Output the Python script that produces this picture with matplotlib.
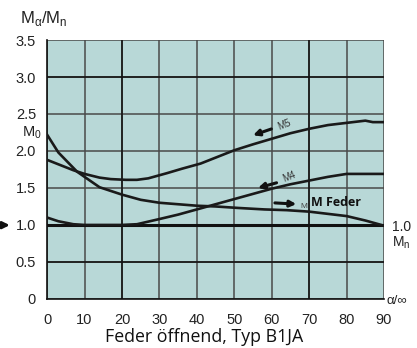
import matplotlib
matplotlib.use('agg')
import matplotlib.pyplot as plt
import numpy as np

plt.rcParams['font.family'] = ['Liberation Sans', 'DejaVu Sans']

# curves
x_m0 = [0, 3, 8, 14, 20, 25, 30, 35, 40, 45, 51, 58, 64, 70, 75, 80, 85, 90]
y_m0 = [2.22, 1.98, 1.72, 1.51, 1.41, 1.34, 1.30, 1.28, 1.26, 1.25, 1.23, 1.21, 1.20, 1.18, 1.15, 1.12, 1.06, 0.99]

x_m5 = [0, 4, 7, 10, 14, 17, 21, 24, 27, 32, 36, 41, 45, 50, 55, 59, 65, 70, 75, 80, 85, 87, 90]
y_m5 = [1.88, 1.80, 1.74, 1.69, 1.64, 1.62, 1.61, 1.61, 1.63, 1.70, 1.76, 1.83, 1.91, 2.01, 2.09, 2.15, 2.24, 2.30, 2.35, 2.38, 2.41, 2.39, 2.39]

x_m4 = [0, 3, 7, 10, 15, 20, 24, 30, 35, 40, 45, 50, 55, 60, 65, 71, 75, 80, 85, 90]
y_m4 = [1.10, 1.05, 1.01, 1.0, 1.0, 1.0, 1.01, 1.08, 1.14, 1.21, 1.28, 1.35, 1.42, 1.49, 1.55, 1.61, 1.65, 1.69, 1.69, 1.69]

xticks = [0, 10, 20, 30, 40, 50, 60, 70, 80, 90]
yticks = [0, 0.5, 1.0, 1.5, 2.0, 2.5, 3.0, 3.5]
ylabels = ['0', '0.5', '1.0', '1.5', '2.0', '2.5', '3.0', '3.5']

fig = plt.figure(figsize=(4.17, 3.48), dpi=100)
ax = fig.add_axes([0.113, 0.141, 0.808, 0.744])
ax.set_facecolor('#b8d8d7')
ax.set_xlim(0, 90)
ax.set_ylim(0, 3.5)
ax.set_xticks(xticks)
ax.set_yticks(yticks)
ax.set_yticklabels(ylabels)
ax.tick_params(length=0, labelsize=10.5, colors='#222')
ax.tick_params(axis='x', pad=10)
ax.tick_params(axis='y', pad=8)
ax.grid(True, color='#4a4a4a', linewidth=1.1)
ax.set_axisbelow(True)
# a few darker grid lines as in the original
for xv in [20, 70]:
    ax.axvline(xv, color='#111', lw=1.1, zorder=1)
for yv in [0.5, 3.0]:
    ax.axhline(yv, color='#111', lw=1.1, zorder=1)
for s in ['top', 'right']:
    ax.spines[s].set_visible(False)
for s in ['left', 'bottom']:
    ax.spines[s].set_color('#111')
    ax.spines[s].set_linewidth(1.2)

ax.axhline(1.0, color='#111', lw=2.2, zorder=3)
ax.plot(x_m0, y_m0, color='#1a1a1a', lw=1.9, zorder=4)
ax.plot(x_m5, y_m5, color='#1a1a1a', lw=1.9, zorder=4)
ax.plot(x_m4, y_m4, color='#1a1a1a', lw=1.9, zorder=4)

# arrows and labels in the plot
arr = dict(arrowstyle='-|>', color='#111', lw=2.2, mutation_scale=9)
ax.annotate('', xy=(54.3, 2.20), xytext=(60.6, 2.31), arrowprops=arr)
ax.text(61.3, 2.36, 'M5', fontsize=7, rotation=22, color='#333', ha='left', va='center')
ax.annotate('', xy=(55.6, 1.49), xytext=(62, 1.58), arrowprops=arr)
ax.text(62.6, 1.65, 'M4', fontsize=7, rotation=22, color='#333', ha='left', va='center')
ax.annotate('', xy=(67.3, 1.28), xytext=(60.1, 1.30), arrowprops=arr)
ax.text(67.6, 1.25, 'M', fontsize=6, color='#444', ha='left', va='center')
ax.text(70.5, 1.31, 'M Feder', fontsize=9, fontweight='bold', family='Open Sans', color='#111', ha='left', va='center')

# labels around the axes
fig.text(0.048, 0.948, r'M$_\mathregular{α}$/M$_\mathregular{n}$', fontsize=12, color='#222', va='center')
fig.text(0.053, 0.62, r'M$_\mathregular{0}$', fontsize=10.5, color='#222', va='center')
fig.text(0.94, 0.347, '1.0', fontsize=10, color='#222', va='center')
fig.text(0.94, 0.302, r'M$_\mathregular{n}$', fontsize=10, color='#222', va='center')
fig.text(0.928, 0.135, 'α/∞', fontsize=9.5, color='#222', va='center')
ax.annotate('', xy=(0.03, 0.353), xytext=(0.0, 0.353), xycoords='figure fraction',
            arrowprops=dict(arrowstyle='-|>', color='#111', lw=2, mutation_scale=10))
fig.text(0.49, 0.032, 'Feder öffnend, Typ B1JA', fontsize=12.8, family='Open Sans',
         color='#111', ha='center', va='center')

plt.savefig('out.png', dpi=100)
